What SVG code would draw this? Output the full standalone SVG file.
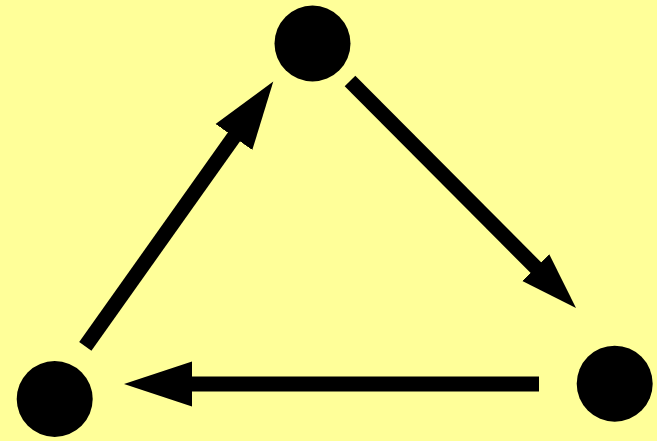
<svg xmlns="http://www.w3.org/2000/svg" width="657" height="441" viewBox="0 0 657 441">
<style>
.node{fill:#000}
.edge{stroke:#000;stroke-width:15;fill:none;stroke-linecap:butt}
</style>
<defs>
<marker id="headL" markerUnits="userSpaceOnUse" viewBox="-1 -23 69 46" markerWidth="69" markerHeight="46" refX="0" refY="0" orient="auto">
<path d="M-1,-22.5 L67,0 L-1,22.5 z" fill="#000"/>
</marker>
<marker id="headS" markerUnits="userSpaceOnUse" viewBox="-1 -20 58 40" markerWidth="58" markerHeight="40" refX="0" refY="0" orient="auto">
<path d="M-1,-19 L56,0 L-1,19 z" fill="#000"/>
</marker>
</defs>
<rect width="657" height="441" fill="#FFFF99"/>
<g id="connectors">
<path class="edge" d="M85.3,346.3 L234.5,136.2" marker-end="url(#headL)"/>
<path class="edge" d="M350,81 L536.5,268.3" marker-end="url(#headS)"/>
<path class="edge" d="M539,384 L191,384" marker-end="url(#headL)"/>
</g>
<g id="node-top"><circle class="node" cx="312.5" cy="43.5" r="38"/></g>
<g id="node-right"><circle class="node" cx="614.7" cy="383.7" r="38"/></g>
<g id="node-left"><circle class="node" cx="54.7" cy="399" r="38"/></g>
</svg>
